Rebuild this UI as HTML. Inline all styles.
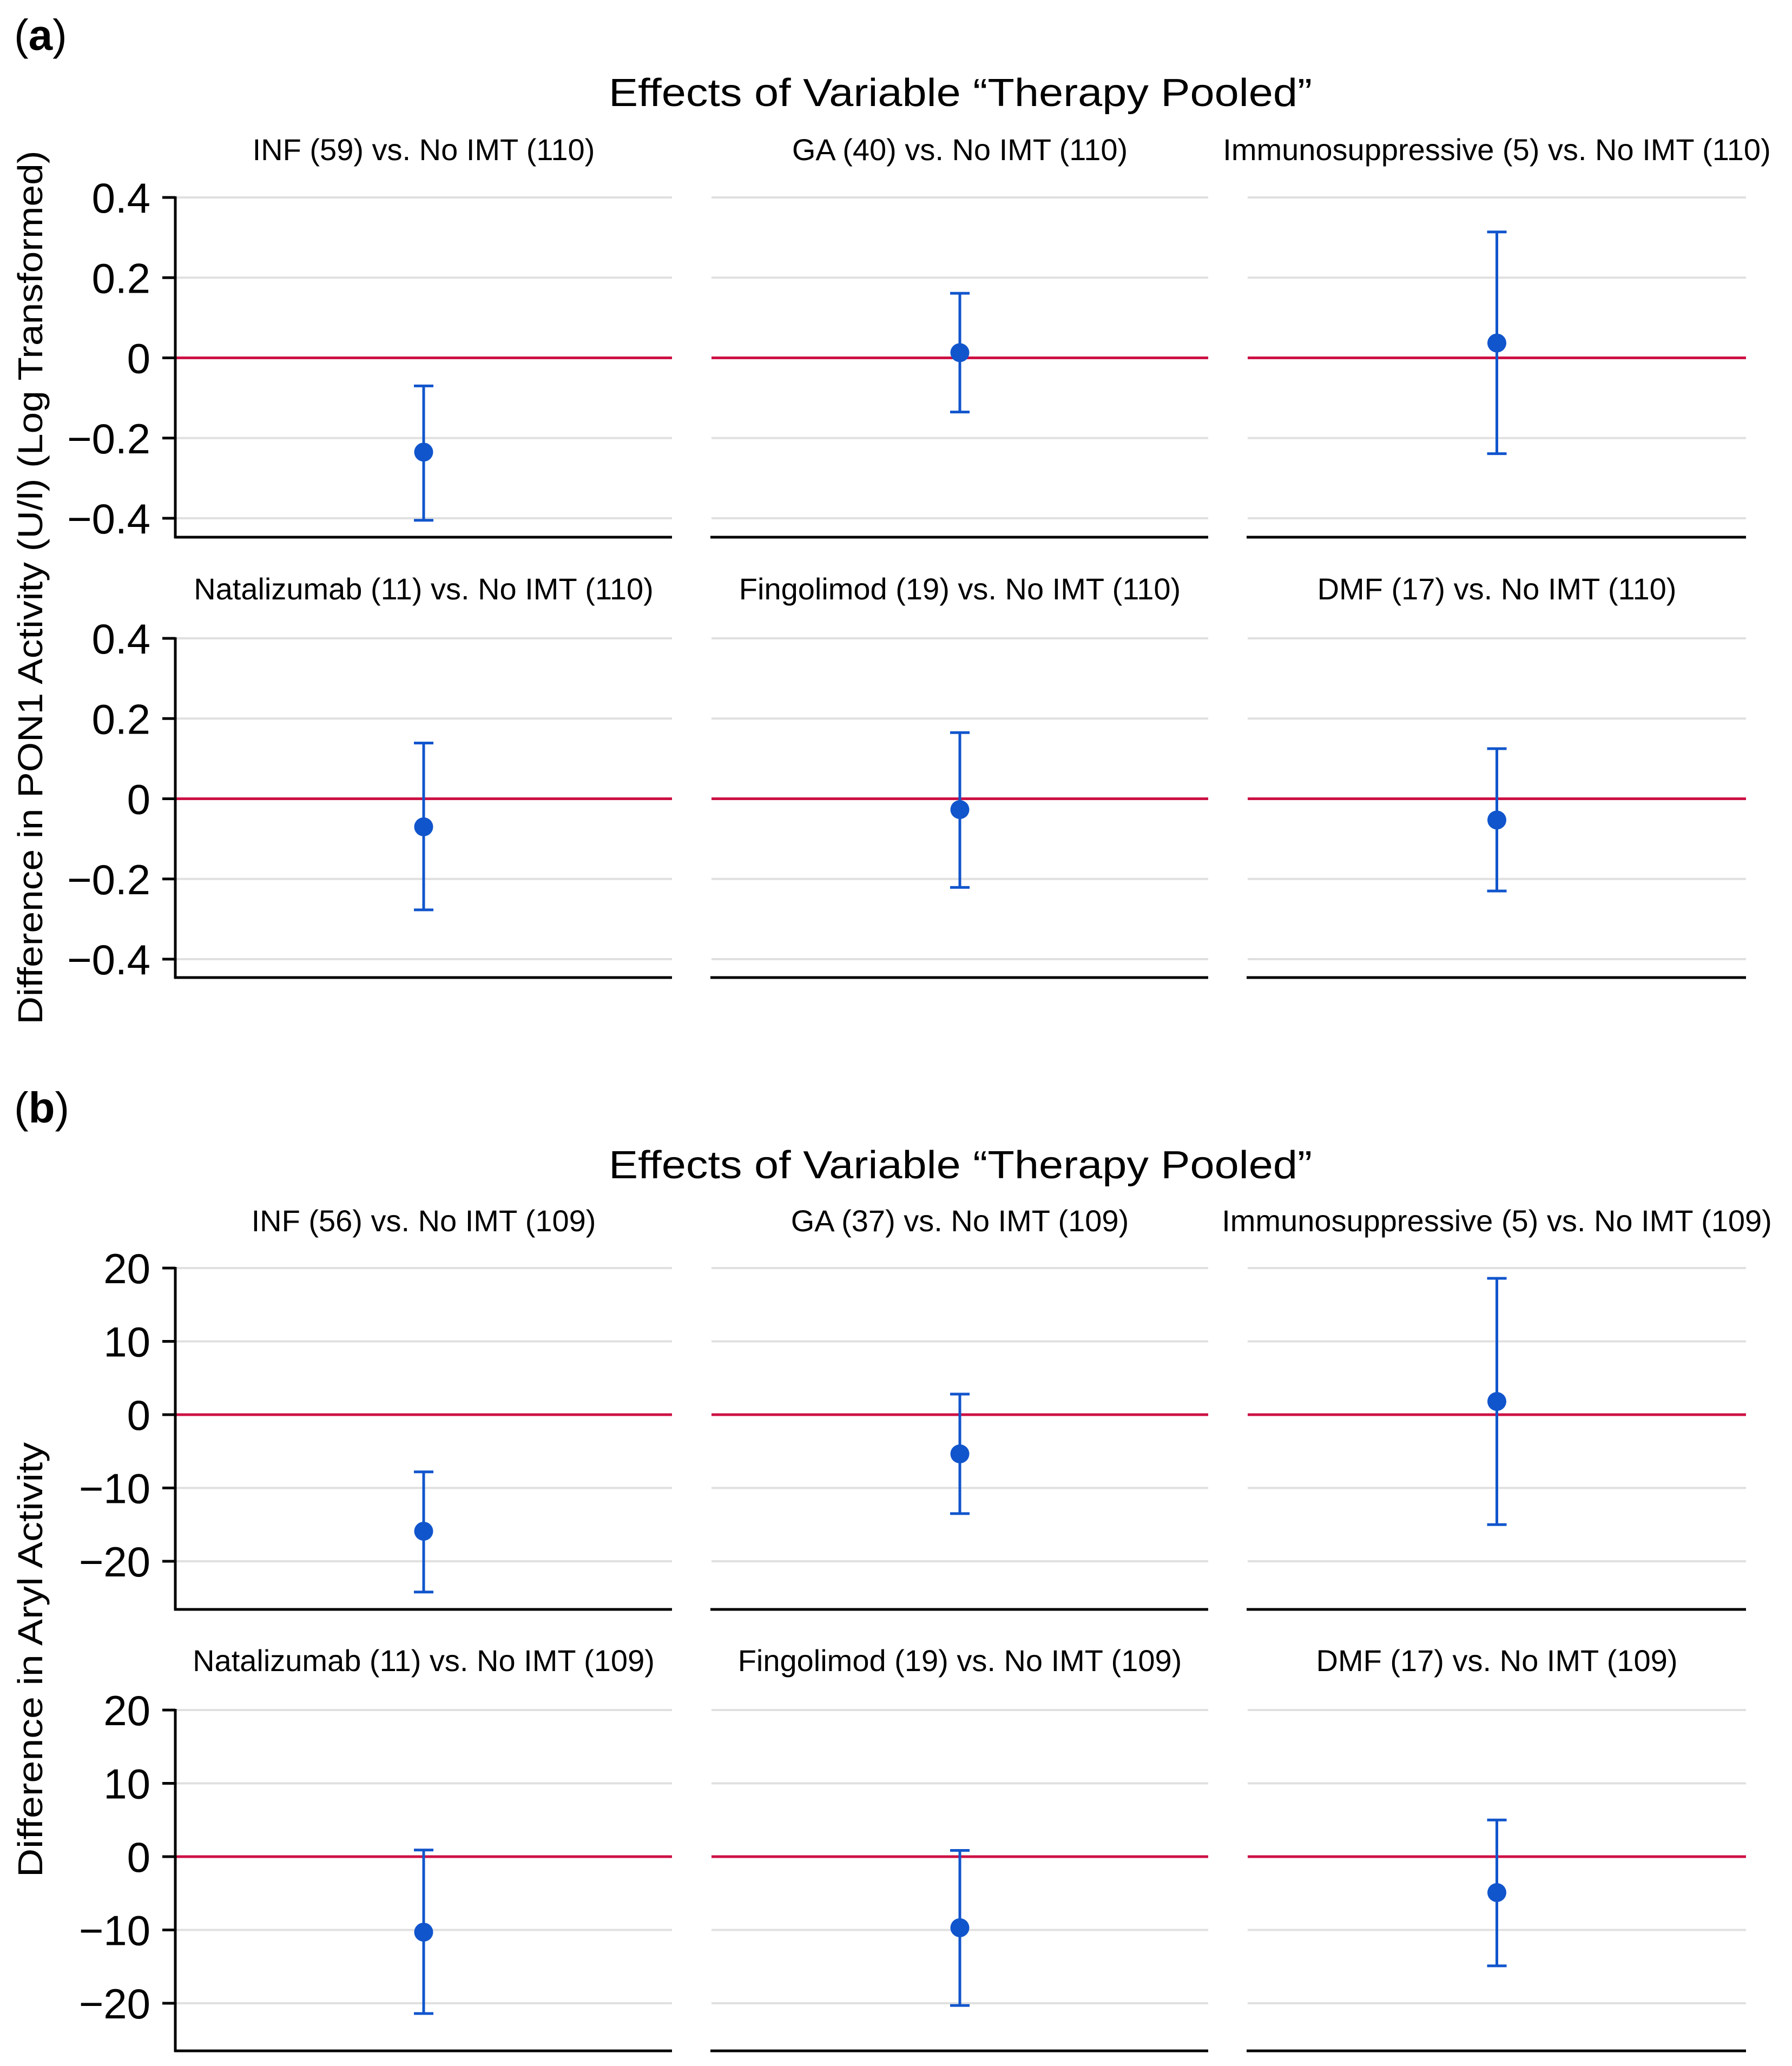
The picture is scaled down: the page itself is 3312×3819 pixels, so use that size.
<!DOCTYPE html>
<html><head><meta charset="utf-8"><style>
html,body{margin:0;padding:0;background:#fff;}
svg{display:block;}
text{font-family:"Liberation Sans",sans-serif;fill:#000;}
</style></head><body>
<svg id="fig" width="3312" height="3819" viewBox="0 0 3312 3819" xmlns="http://www.w3.org/2000/svg"></svg>
<script>
// ---- data ----
const subtitlesA = ["INF (59) vs. No IMT (110)","GA (40) vs. No IMT (110)","Immunosuppressive (5) vs. No IMT (110)","Natalizumab (11) vs. No IMT (110)","Fingolimod (19) vs. No IMT (110)","DMF (17) vs. No IMT (110)"];
const estA = [-0.235, 0.013, 0.037, -0.070, -0.027, -0.053];
const lowA = [-0.405, -0.135, -0.239, -0.277, -0.221, -0.230];
const highA = [-0.070, 0.161, 0.314, 0.139, 0.165, 0.125];
const ticksA = [0.4, 0.2, 0, -0.2, -0.4];
const tickLabelsA = ["0.4","0.2","0","\u22120.2","\u22120.4"];

const subtitlesB = ["INF (56) vs. No IMT (109)","GA (37) vs. No IMT (109)","Immunosuppressive (5) vs. No IMT (109)","Natalizumab (11) vs. No IMT (109)","Fingolimod (19) vs. No IMT (109)","DMF (17) vs. No IMT (109)"];
const estB = [-15.9, -5.35, 1.8, -10.3, -9.7, -4.9];
const lowB = [-24.2, -13.5, -15.0, -21.4, -20.3, -14.9];
const highB = [-7.8, 2.8, 18.6, 0.9, 0.85, 5.0];
const ticksB = [20, 10, 0, -10, -20];
const tickLabelsB = ["20","10","0","\u221210","\u221220"];

// ---- layout ----
const NS = "http://www.w3.org/2000/svg";
const svg = document.getElementById('fig');
const colX = [[324,1242],[1315,2233],[2306,3227]];
function el(tag, attrs, parent){
  const e = document.createElementNS(NS, tag);
  for (const k in attrs) e.setAttribute(k, attrs[k]);
  (parent||svg).appendChild(e);
  return e;
}
function txt(s, attrs, parent){ const t = el('text', attrs, parent); t.textContent = s; return t; }

const rowsA = [[365,958,993,296],[1180,1773,1807,1108]];
const rowsB = [[2344,2886,2975,2276],[3161,3703,3791,3089]];

function drawSection(prefix, rows, subs, est, low, high, ticks, tlabels){
  const tMax = ticks[0], tMin = ticks[ticks.length-1];
  for (let r=0;r<2;r++){
    const [y0,y1,axY,subY] = rows[r];
    const yScale = v => y0 + (tMax - v)/(tMax - tMin)*(y1-y0);
    for (let c=0;c<3;c++){
      const i = r*3+c;
      const [xa,xb] = colX[c];
      const g = el('g',{});
      
      
      const st = txt(subs[i], {x:(xa+xb)/2, y:subY, 'font-size':56, 'text-anchor':'middle'}, g);
      
      
      ticks.forEach((t,k)=>{
        if (t===0) return;
        const gl = el('line',{x1:xa,x2:xb,y1:yScale(t),y2:yScale(t),stroke:'#e0e0e0','stroke-width':4},g);
        
        
      });
      const zl = el('line',{x1:xa,x2:xb,y1:yScale(0),y2:yScale(0),stroke:'#cc1144','stroke-width':5},g);
      
      
      const xl = el('line',{x1:xa-2,x2:xb,y1:axY,y2:axY,stroke:'#000','stroke-width':5},g);
      
      
      if (c===0){
        const yl = el('line',{x1:xa,x2:xa,y1:yScale(tMax)-2,y2:axY+2,stroke:'#000','stroke-width':5},g);
        
        
        ticks.forEach((t,k)=>{
          const tk = el('line',{x1:xa-24,x2:xa,y1:yScale(t),y2:yScale(t),stroke:'#000','stroke-width':5},g);
          
          
          const tl = txt(tlabels[k],{x:xa-46,y:yScale(t)+28,'font-size':78,'text-anchor':'end'},g);
          
          
        });
      }
      const cx = (xa+xb)/2;
      const eb = el('g',{},g);
      
      
      el('line',{x1:cx,x2:cx,y1:yScale(high[i]),y2:yScale(low[i]),stroke:'#1155cc','stroke-width':5},eb);
      el('line',{x1:cx-18,x2:cx+18,y1:yScale(high[i]),y2:yScale(high[i]),stroke:'#1155cc','stroke-width':5},eb);
      el('line',{x1:cx-18,x2:cx+18,y1:yScale(low[i]),y2:yScale(low[i]),stroke:'#1155cc','stroke-width':5},eb);
      const pt = el('circle',{cx:cx,cy:yScale(est[i]),r:17.5,fill:'#1155cc'},g);
      
      
    }
  }
}

let t;
t = txt('(a)',{x:26,y:92,'font-size':80});  
t.innerHTML = '(<tspan font-weight="bold">a</tspan>)';
t = txt('Effects of Variable \u201CTherapy Pooled\u201D',{x:1775,y:196,'font-size':72,'text-anchor':'middle',textLength:1300,lengthAdjust:'spacingAndGlyphs'});  
t = txt('Difference in PON1 Activity (U/l) (Log Transformed)',{x:0,y:0,'font-size':64,'text-anchor':'middle',transform:'translate(78,1086) rotate(-90)',textLength:1615,lengthAdjust:'spacingAndGlyphs'});  

t = txt('(b)',{x:26,y:2075,'font-size':80});  
t.innerHTML = '(<tspan font-weight="bold">b</tspan>)';
t = txt('Effects of Variable \u201CTherapy Pooled\u201D',{x:1775,y:2178,'font-size':72,'text-anchor':'middle',textLength:1300,lengthAdjust:'spacingAndGlyphs'});  
t = txt('Difference in Aryl Activity',{x:0,y:0,'font-size':64,'text-anchor':'middle',transform:'translate(78,3068) rotate(-90)',textLength:804,lengthAdjust:'spacingAndGlyphs'});  

drawSection('pon1', rowsA, subtitlesA, estA, lowA, highA, ticksA, tickLabelsA);
drawSection('aryl', rowsB, subtitlesB, estB, lowB, highB, ticksB, tickLabelsB);
</script>
</body></html>
